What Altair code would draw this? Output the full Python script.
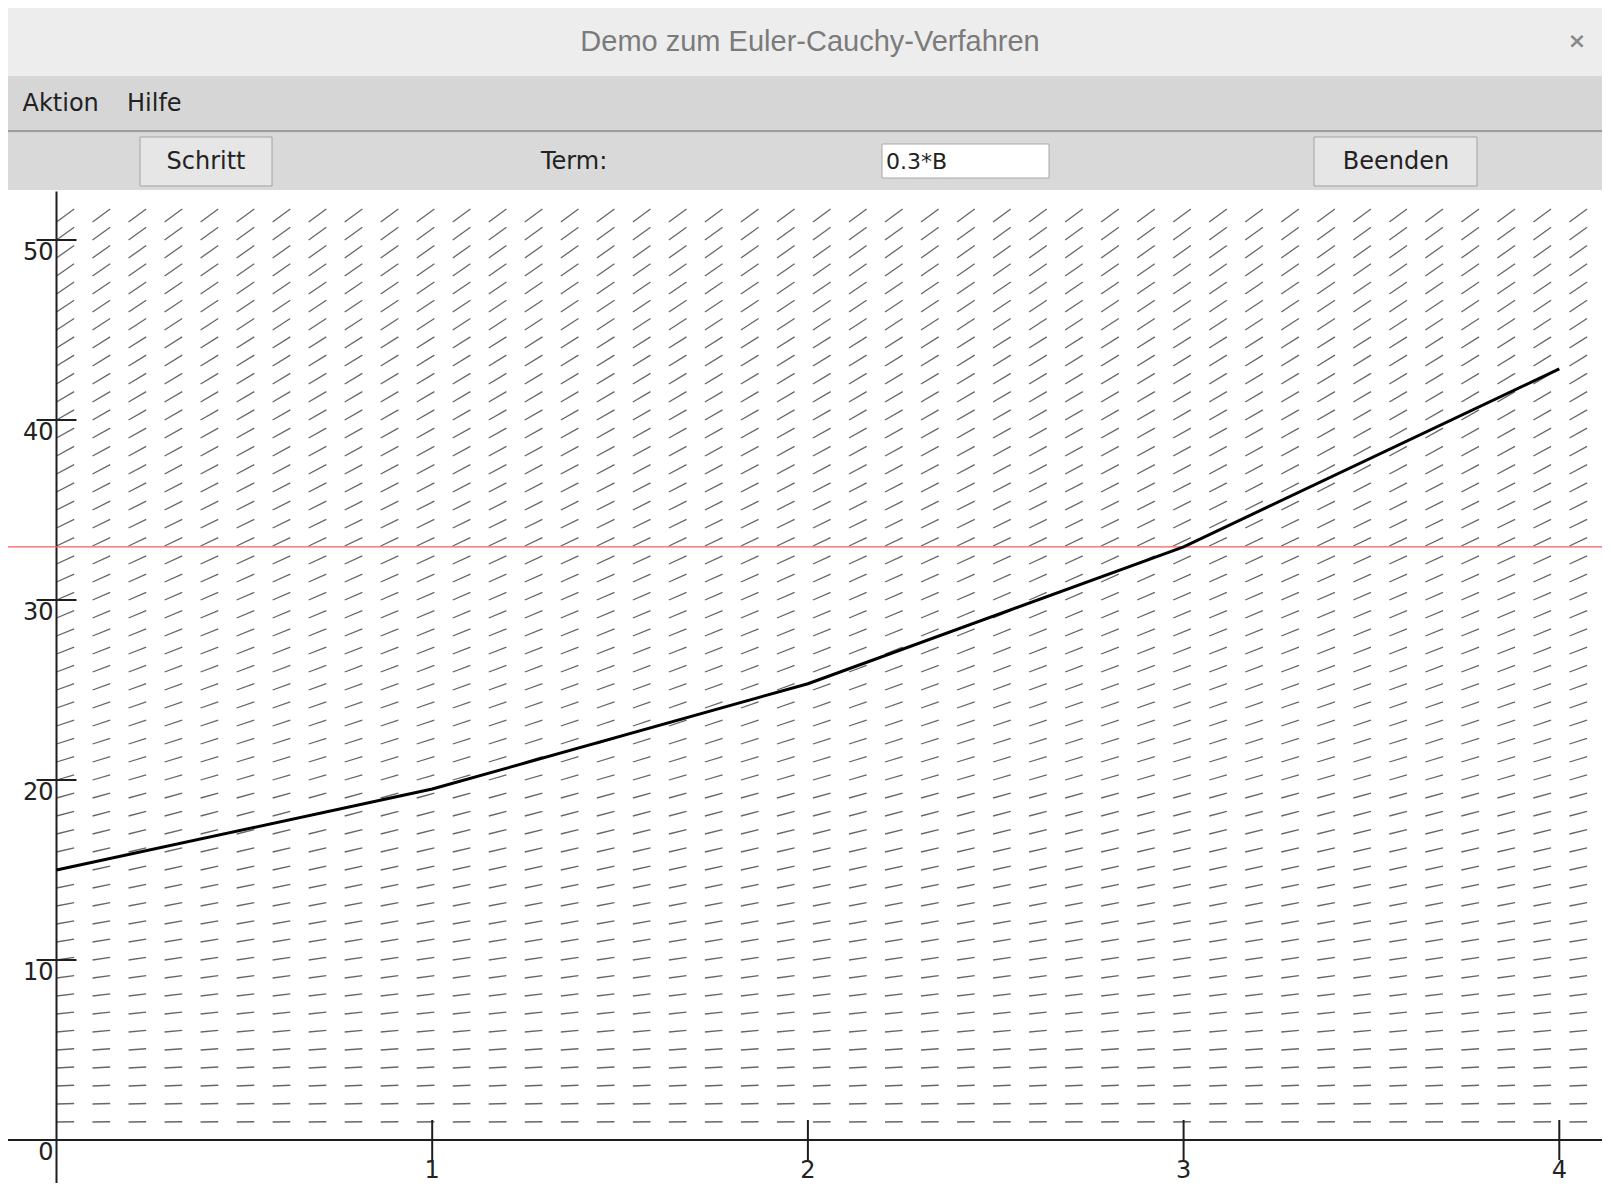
import altair as alt
import pandas as pd

# ---------------- data ----------------
term_factor = 0.3                      # Term: 0.3*B  ->  B' = 0.3*B
step_x = [0, 1, 2, 3, 4]               # Euler-Cauchy steps
step_y = [15.0, 19.5, 25.35, 32.955, 42.84]
current_y = 32.955                     # red marker line (current value)
x_ticks = [1, 2, 3, 4]
y_ticks = [10, 20, 30, 40, 50]
field_rows = list(range(1, 52))        # y values of direction-field rows
field_col_step = 0.09588               # spacing of direction-field columns (x units)
field_cols = [k * field_col_step for k in range(44)]
seg_dx = 0.047                         # horizontal extent of each slope segment

# ---------------- layout (page px minus 8px margin) ----------------
W, H = 1594, 1175
OFF = 8
def px(v):
    return v - OFF

X_SCALE = alt.Scale(domain=[0, 4], range=[px(56.5), px(1559.3)], nice=False, zero=False)
Y_SCALE = alt.Scale(domain=[0, 50], range=[px(1140), px(240)], nice=False, zero=False)
UI_FONT = "DejaVu Sans"
ONE = alt.Data(values=[{}])


def rect(x, y, x2, y2, fill, stroke=None, sw=1):
    kw = dict(fill=fill)
    if stroke:
        kw.update(stroke=stroke, strokeWidth=sw)
    return alt.Chart(ONE).mark_rect(**kw).encode(
        x=alt.value(px(x)), x2=alt.value(px(x2)), y=alt.value(px(y)), y2=alt.value(px(y2)))


def label(text, x, y, size=24, color="#222222", align="left", font=UI_FONT, weight="normal"):
    return alt.Chart(ONE).mark_text(
        text=text, fontSize=size, color=color, align=align, baseline="middle",
        font=font, fontWeight=weight).encode(x=alt.value(px(x)), y=alt.value(px(y)))


ui = [
    rect(0, 0, 1620, 1200, "#ffffff"),
    rect(5, 5, 1610, 76, "#ededed"),
    rect(5, 76, 1610, 131, "#d6d6d6"),
    rect(5, 130, 1610, 132.5, "#9e9e9e"),
    rect(5, 132.5, 1610, 190, "#d9d9d9"),
    rect(5, 190, 1605, 1190, "#ffffff"),
    label("Demo zum Euler-Cauchy-Verfahren", 810, 42, size=29, color="#7b7b7b",
          align="center", font="Liberation Sans"),
    label("×", 1577, 41, size=22, color="#8a8a8a", align="center", weight="bold"),
    label("Aktion", 22.5, 103.5),
    label("Hilfe", 127, 103.5),
    rect(140, 137, 272, 186, "#e6e6e6", "#a2a2a2"),
    label("Schritt", 206, 162, align="center"),
    label("Term:", 541, 162),
    rect(882, 144, 1049, 178, "#ffffff", "#a8a8a8"),
    label("0.3*B", 886, 162, size=22),
    rect(1314, 137, 1477, 186, "#e6e6e6", "#a2a2a2"),
    label("Beenden", 1396, 162, align="center"),
]

# ---------------- direction field ----------------
rows = []
for yv in field_rows:
    slope = term_factor * yv
    for xv in field_cols:
        rows.append({"x": xv, "y": yv, "x2": xv + seg_dx, "y2": yv + slope * seg_dx})
field_df = pd.DataFrame(rows)

field = alt.Chart(field_df).mark_rule(color="#666666", strokeWidth=1.3).encode(
    x=alt.X("x:Q", scale=X_SCALE, axis=None),
    y=alt.Y("y:Q", scale=Y_SCALE, axis=None),
    x2="x2:Q", y2="y2:Q")

# ---------------- axes (drawn through the origin) ----------------
axis_df = pd.DataFrame([
    {"x": -0.2, "y": 0, "x2": 4.3, "y2": 0},
    {"x": 0, "y": -3.0, "x2": 0, "y2": 52.7},
])
tick_df = pd.DataFrame(
    [{"x": t, "y": -1.11, "x2": t, "y2": 1.11} for t in x_ticks] +
    [{"x": -0.0532, "y": t, "x2": 0.0532, "y2": t} for t in y_ticks])
axes = alt.Chart(pd.concat([axis_df, tick_df])).mark_rule(color="#1e1e1e", strokeWidth=2).encode(
    x=alt.X("x:Q", scale=X_SCALE, axis=None),
    y=alt.Y("y:Q", scale=Y_SCALE, axis=None),
    x2="x2:Q", y2="y2:Q")

xlab = alt.Chart(pd.DataFrame({"x": x_ticks, "y": [0] * len(x_ticks), "t": [str(t) for t in x_ticks]})).mark_text(
    fontSize=24, font=UI_FONT, color="#222222", baseline="middle", align="center", dy=31).encode(
    x=alt.X("x:Q", scale=X_SCALE, axis=None), y=alt.Y("y:Q", scale=Y_SCALE, axis=None), text="t:N")

ylab_vals = [0] + y_ticks
ylab = alt.Chart(pd.DataFrame({"x": [0] * len(ylab_vals), "y": ylab_vals, "t": [str(t) for t in ylab_vals]})).mark_text(
    fontSize=24, font=UI_FONT, color="#222222", baseline="middle", align="right", dx=-3, dy=13).encode(
    x=alt.X("x:Q", scale=X_SCALE, axis=None), y=alt.Y("y:Q", scale=Y_SCALE, axis=None), text="t:N")

# ---------------- red current-value line and Euler polygon ----------------
red = alt.Chart(pd.DataFrame({"x": [-0.2], "x2": [4.3], "y": [current_y]})).mark_rule(
    color="#ff5a5a", strokeWidth=1.2).encode(
    x=alt.X("x:Q", scale=X_SCALE, axis=None), x2="x2:Q",
    y=alt.Y("y:Q", scale=Y_SCALE, axis=None))

curve = alt.Chart(pd.DataFrame({"x": step_x, "y": step_y})).mark_line(
    color="#000000", strokeWidth=3).encode(
    x=alt.X("x:Q", scale=X_SCALE, axis=None), y=alt.Y("y:Q", scale=Y_SCALE, axis=None))

chart = alt.layer(*ui, field, axes, xlab, ylab, red, curve).properties(
    width=W, height=H, padding=0, autosize=alt.AutoSizeParams(type="none")
).configure_view(stroke=None).configure(background="#ffffff")

chart.save("out.html", embed_options={"renderer": "svg", "actions": False})
